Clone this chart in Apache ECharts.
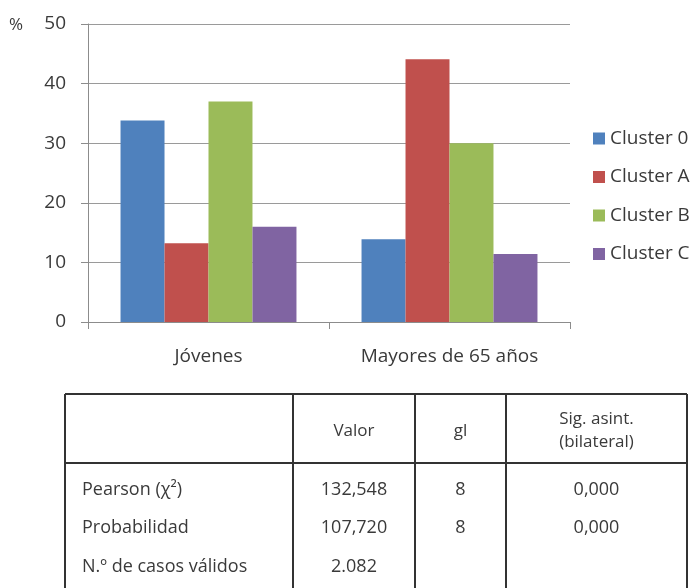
<!DOCTYPE html>
<html>
<head>
<meta charset="utf-8">
<script src="https://cdn.jsdelivr.net/npm/echarts@6/dist/echarts.min.js"></script>
<style>
  html, body { margin: 0; padding: 0; background: #fff; }
  #chart { width: 695px; height: 588px; }
</style>
</head>
<body>
<div id="chart"></div>
<script>
// Age groups and cluster shares (%)
const categories = ['Jóvenes', 'Mayores de 65 años'];
const seriesNames = ['Cluster 0', 'Cluster A', 'Cluster B', 'Cluster C'];
const cluster0 = [33.8, 13.9];
const clusterA = [13.2, 44.1];
const clusterB = [37.0, 30.0];
const clusterC = [16.0, 11.4];
const yTicks = [0, 10, 20, 30, 40, 50];

// Chi-square test table
const tableHeader = ['', 'Valor', 'gl', 'Sig. asint.\n(bilateral)'];
const tableRows = [
  ['Pearson (χ²)', '132,548', '8', '0,000'],
  ['Probabilidad', '107,720', '8', '0,000'],
  ['N.º de casos válidos', '2.082', '', '']
];

const colors = ['#4F81BD', '#C0504D', '#9BBB59', '#8064A2'];
const FONT = '"Open Sans", sans-serif';
const TEXT = '#3a3a3a';

const seriesValues = [cluster0, clusterA, clusterB, clusterC];

// table geometry
const colX = [65, 293, 415, 506, 687];
const headTop = 394, headBottom = 463, tableBottom = 600;
const rowY = [490, 528, 567];
const headY = 431;

const graphics = [];
graphics.push({
  type: 'text', x: 9, y: 25,
  style: { text: '%', font: '17px ' + FONT, fill: TEXT, verticalAlign: 'middle' }
});
const lineStyle = { stroke: '#333', lineWidth: 2 };
graphics.push({ type: 'line', shape: { x1: colX[0], y1: headTop, x2: colX[4], y2: headTop }, style: lineStyle });
graphics.push({ type: 'line', shape: { x1: colX[0], y1: headBottom, x2: colX[4], y2: headBottom }, style: lineStyle });
colX.forEach(function (x) {
  graphics.push({ type: 'line', shape: { x1: x, y1: headTop, x2: x, y2: tableBottom }, style: lineStyle });
});
tableHeader.forEach(function (h, i) {
  if (!h) return;
  graphics.push({
    type: 'text', x: (colX[i] + colX[i + 1]) / 2, y: headY,
    style: { text: h, font: '17px ' + FONT, fill: TEXT, align: 'center', verticalAlign: 'middle', lineHeight: 23 }
  });
});
tableRows.forEach(function (row, r) {
  row.forEach(function (cell, c) {
    if (!cell) return;
    graphics.push({
      type: 'text',
      x: c === 0 ? 82 : (colX[c] + colX[c + 1]) / 2,
      y: rowY[r],
      style: { text: cell, font: '18px ' + FONT, fill: TEXT, align: c === 0 ? 'left' : 'center', verticalAlign: 'middle' }
    });
  });
});

const chart = echarts.init(document.getElementById('chart'), null, { renderer: 'canvas' });
chart.setOption({
  animation: false,
  color: colors,
  grid: { left: 88, right: 125, top: 24, bottom: 266 },
  legend: {
    orient: 'vertical', left: 593, top: 129, padding: 0,
    itemWidth: 12, itemHeight: 12, itemGap: 19.5,
    icon: 'rect',
    textStyle: { fontFamily: FONT, fontSize: 19, color: TEXT },
    data: seriesNames
  },
  xAxis: {
    type: 'category', data: categories,
    axisLine: { lineStyle: { color: '#8c8c8c', width: 1 } },
    axisTick: { show: true, length: 7, lineStyle: { color: '#8c8c8c' } },
    axisLabel: { fontFamily: FONT, fontSize: 19, color: TEXT, margin: 25 }
  },
  yAxis: {
    type: 'value', min: yTicks[0], max: yTicks[yTicks.length - 1], interval: 10,
    axisLine: { show: true, lineStyle: { color: '#8c8c8c', width: 1 } },
    axisTick: { show: true, length: 7, lineStyle: { color: '#8c8c8c' } },
    axisLabel: { fontFamily: FONT, fontSize: 19, color: TEXT, margin: 22 },
    splitLine: { lineStyle: { color: '#9a9a9a', width: 1 } }
  },
  series: seriesNames.map(function (name, i) {
    return {
      name: name, type: 'bar', data: seriesValues[i],
      barGap: '0%', barCategoryGap: '27%'
    };
  }),
  graphic: graphics
});
</script>
</body>
</html>
